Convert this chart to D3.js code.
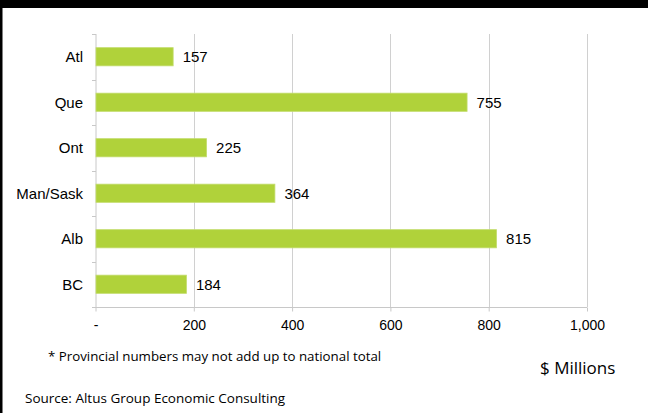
<!DOCTYPE html>
<html><head><meta charset="utf-8">
<script src="https://cdn.jsdelivr.net/npm/d3@7"></script>
<style>body{margin:0;background:#fff}svg{display:block}</style>
</head><body>
<svg id="c" width="648" height="413"></svg>
<script>
const categories = ["Atl","Que","Ont","Man/Sask","Alb","BC"];
const values = [157,755,225,364,815,184];
const tickValues = [0,200,400,600,800,1000];
const tickLabels = ["-","200","400","600","800","1,000"];
const footnote = "* Provincial numbers may not add up to national total";
const unitLabel = "$ Millions";
const sourceText = "Source: Altus Group Economic Consulting";

const svg = d3.select("#c");
const W = 648, H = 413;
const m = {left:95.5, right:61, top:34, bottom:106};
const x = d3.scaleLinear().domain([0,1000]).range([m.left, W-m.right]);
const y = d3.scaleBand().domain(categories).range([m.top, H-m.bottom]).paddingInner(0.6).paddingOuter(0.3);
const yb = d3.scaleBand().domain(categories).range([m.top, H-m.bottom]);

// frame
svg.append("rect").attr("x",0).attr("y",0).attr("width",W).attr("height",8).attr("fill","#000");
svg.append("rect").attr("x",0).attr("y",0).attr("width",2.5).attr("height",H).attr("fill","#000");

// gridlines
svg.append("g").selectAll("line").data(tickValues.slice(1)).join("line")
  .attr("x1",d=>Math.round(x(d))+0.5).attr("x2",d=>Math.round(x(d))+0.5)
  .attr("y1",m.top).attr("y2",H-m.bottom)
  .attr("stroke","#d0d0d0").attr("stroke-width",1);

// x axis
const xa = svg.append("g").attr("transform",`translate(0,${H-m.bottom+0.5})`)
  .call(d3.axisBottom(x).tickValues(tickValues).tickFormat((d,i)=>tickLabels[i]).tickSize(4).tickPadding(9));
xa.select(".domain").attr("stroke","#c8c8c8").attr("d",`M${m.left},0H${W-m.right}`);
xa.selectAll(".tick line").attr("stroke","#c8c8c8");
xa.selectAll("text").attr("font-family","Liberation Sans, Arial, sans-serif").attr("font-size",14).attr("fill","#000");

// y axis
const ya = svg.append("g").attr("transform",`translate(${m.left+0.5},0)`);
ya.append("line").attr("y1",m.top).attr("y2",H-m.bottom).attr("stroke","#c8c8c8");
const bounds = categories.map(c=>yb(c)).concat([H-m.bottom]);
ya.selectAll("line.t").data(bounds).join("line").attr("class","t")
  .attr("x1",-4).attr("x2",0).attr("y1",d=>Math.round(d)+0.5).attr("y2",d=>Math.round(d)+0.5).attr("stroke","#c8c8c8");
ya.selectAll("text").data(categories).join("text")
  .attr("x",-13).attr("y",d=>yb(d)+yb.bandwidth()/2).attr("dy","0.35em")
  .attr("text-anchor","end").attr("font-family","Liberation Sans, Arial, sans-serif").attr("font-size",15).attr("fill","#000")
  .text(d=>d);

// bars
const data = categories.map((c,i)=>({c, v:values[i]}));
svg.append("g").selectAll("rect").data(data).join("rect")
  .attr("x",x(0)+0.5).attr("y",d=>y(d.c)).attr("width",d=>x(d.v)-x(0)).attr("height",y.bandwidth())
  .attr("fill","#b0d23a").attr("stroke","#c4dd6e").attr("stroke-width",0.8);

svg.append("g").selectAll("text").data(data).join("text")
  .attr("x",d=>x(d.v)+10).attr("y",d=>y(d.c)+y.bandwidth()/2).attr("dy","0.35em")
  .attr("font-family","Liberation Sans, Arial, sans-serif").attr("font-size",15).attr("fill","#000")
  .text(d=>d3.format(",")(d.v));

// notes
svg.append("text").attr("x",48).attr("y",361).attr("font-family","Open Sans, sans-serif").attr("font-size",13.3).attr("fill","#000").text(footnote);
svg.append("text").attr("x",540).attr("y",374).attr("font-family","Open Sans, sans-serif").attr("font-size",17).attr("fill","#000").text(unitLabel);
svg.append("text").attr("x",25).attr("y",403).attr("font-family","Open Sans, sans-serif").attr("font-size",13.5).attr("fill","#000").text(sourceText);
</script>
</body></html>
